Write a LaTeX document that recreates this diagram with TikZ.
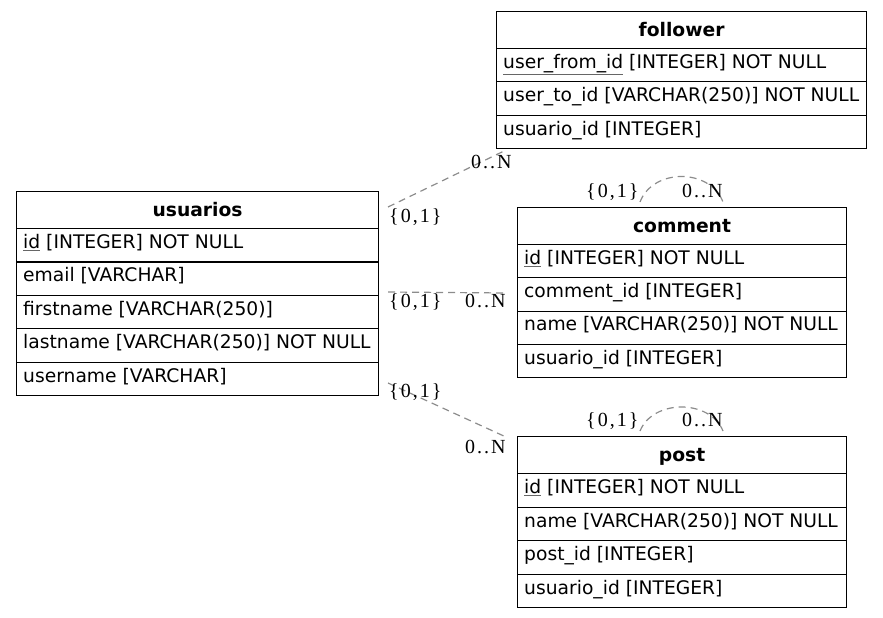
\documentclass[tikz,border=0pt]{standalone}
\usepackage{fontspec}
\setmainfont{DejaVu Sans}
\newfontfamily\lblfont[LetterSpace=10]{Liberation Serif}
\newcommand\pk[1]{{\color{black!60}\underline{\textcolor{black}{#1}}}}
\tikzset{
  cellbox/.style={draw=black, line width=1.1pt, anchor=north west, inner sep=0pt, minimum width=#1},
  rowtxt/.style={anchor=base west, inner sep=0pt, font=\fontsize{18.7}{20}\selectfont},
  headtxt/.style={anchor=base, inner sep=0pt, font=\fontsize{18.7}{20}\selectfont\bfseries},
  rel/.style={draw=gray!90, line width=1.2pt, dash pattern=on 7pt off 5pt},
  lbl/.style={anchor=base west, inner sep=0pt, font=\fontsize{20}{20}\selectfont\lblfont},
}
% name, left, top, width, height, text
\newcommand\erow[6]{%
  \node[cellbox=#4, minimum height=#5] (#1) at (#2,#3) {};
  \node[rowtxt] (#1-t) at ([shift={(7,-14)}]#1.south west) {#6};}
\newcommand\ehead[6]{%
  \node[cellbox=#4, minimum height=#5] (#1) at (#2,#3) {};
  \node[headtxt] (#1-t) at ([shift={(0,-13)}]#1.south) {#6};}
\begin{document}
\begin{tikzpicture}[x=1pt,y=-1pt]
\useasboundingbox (0,0) rectangle (883,618);
% usuarios
\ehead{u0}{16}{191}{362pt}{37pt}{usuarios}
\erow{u1}{16}{228}{362pt}{33.4pt}{\pk{id} [INTEGER] NOT NULL}
\erow{u2}{16}{261.4}{362pt}{33.4pt}{email [VARCHAR]}
\erow{u3}{16}{294.8}{362pt}{33.4pt}{firstname [VARCHAR(250)]}
\erow{u4}{16}{328.2}{362pt}{33.4pt}{lastname [VARCHAR(250)] NOT NULL}
\erow{u5}{16}{361.6}{362pt}{33.4pt}{username [VARCHAR]}
% follower
\ehead{f0}{496}{11}{370pt}{37pt}{follower}
\erow{f1}{496}{48}{370pt}{33.33pt}{\pk{user\_from\_id} [INTEGER] NOT NULL}
\erow{f2}{496}{81.33}{370pt}{33.33pt}{user\_to\_id [VARCHAR(250)] NOT NULL}
\erow{f3}{496}{114.67}{370pt}{33.33pt}{usuario\_id [INTEGER]}
% comment
\ehead{c0}{517}{207}{329pt}{37pt}{comment}
\erow{c1}{517}{244}{329pt}{33.25pt}{\pk{id} [INTEGER] NOT NULL}
\erow{c2}{517}{277.25}{329pt}{33.25pt}{comment\_id [INTEGER]}
\erow{c3}{517}{310.5}{329pt}{33.25pt}{name [VARCHAR(250)] NOT NULL}
\erow{c4}{517}{343.75}{329pt}{33.25pt}{usuario\_id [INTEGER]}
% post
\ehead{p0}{517}{436}{329pt}{37pt}{post}
\erow{p1}{517}{473}{329pt}{33.5pt}{\pk{id} [INTEGER] NOT NULL}
\erow{p2}{517}{506.5}{329pt}{33.5pt}{name [VARCHAR(250)] NOT NULL}
\erow{p3}{517}{540}{329pt}{33.5pt}{post\_id [INTEGER]}
\erow{p4}{517}{573.5}{329pt}{33.5pt}{usuario\_id [INTEGER]}
% connector end points
\coordinate (uf1) at (388,207);
\coordinate (uf2) at (504,151);
\coordinate (uc1) at (388,292);
\coordinate (uc2) at (507,293);
\coordinate (up1) at (388,383);
\coordinate (up2) at (506,437);
\coordinate (cc1) at (640,202);
\coordinate (cc2) at (723,202);
\coordinate (pp1) at (640,431);
\coordinate (pp2) at (723,431);
\draw[rel] (uf1) -- (uf2);
\draw[rel] (uc1) -- (uc2);
\draw[rel] (up1) -- (up2);
\draw[rel] (cc1) .. controls (653,168) and (710,168) .. (cc2);
\draw[rel] (pp1) .. controls (653,399) and (710,399) .. (pp2);
% labels
\node[lbl] (l1) at (389,222) {\{0,1\}};
\node[lbl] (l2) at (471,168) {0..N};
\node[lbl] (l3) at (389,307) {\{0,1\}};
\node[lbl] (l4) at (465,307) {0..N};
\node[lbl] (l5) at (389,397) {\{0,1\}};
\node[lbl] (l6) at (465,453) {0..N};
\node[lbl] (l7) at (586,197) {\{0,1\}};
\node[lbl] (l8) at (682,197) {0..N};
\node[lbl] (l9) at (586,426) {\{0,1\}};
\node[lbl] (l10) at (682,426) {0..N};
\end{tikzpicture}
\end{document}
